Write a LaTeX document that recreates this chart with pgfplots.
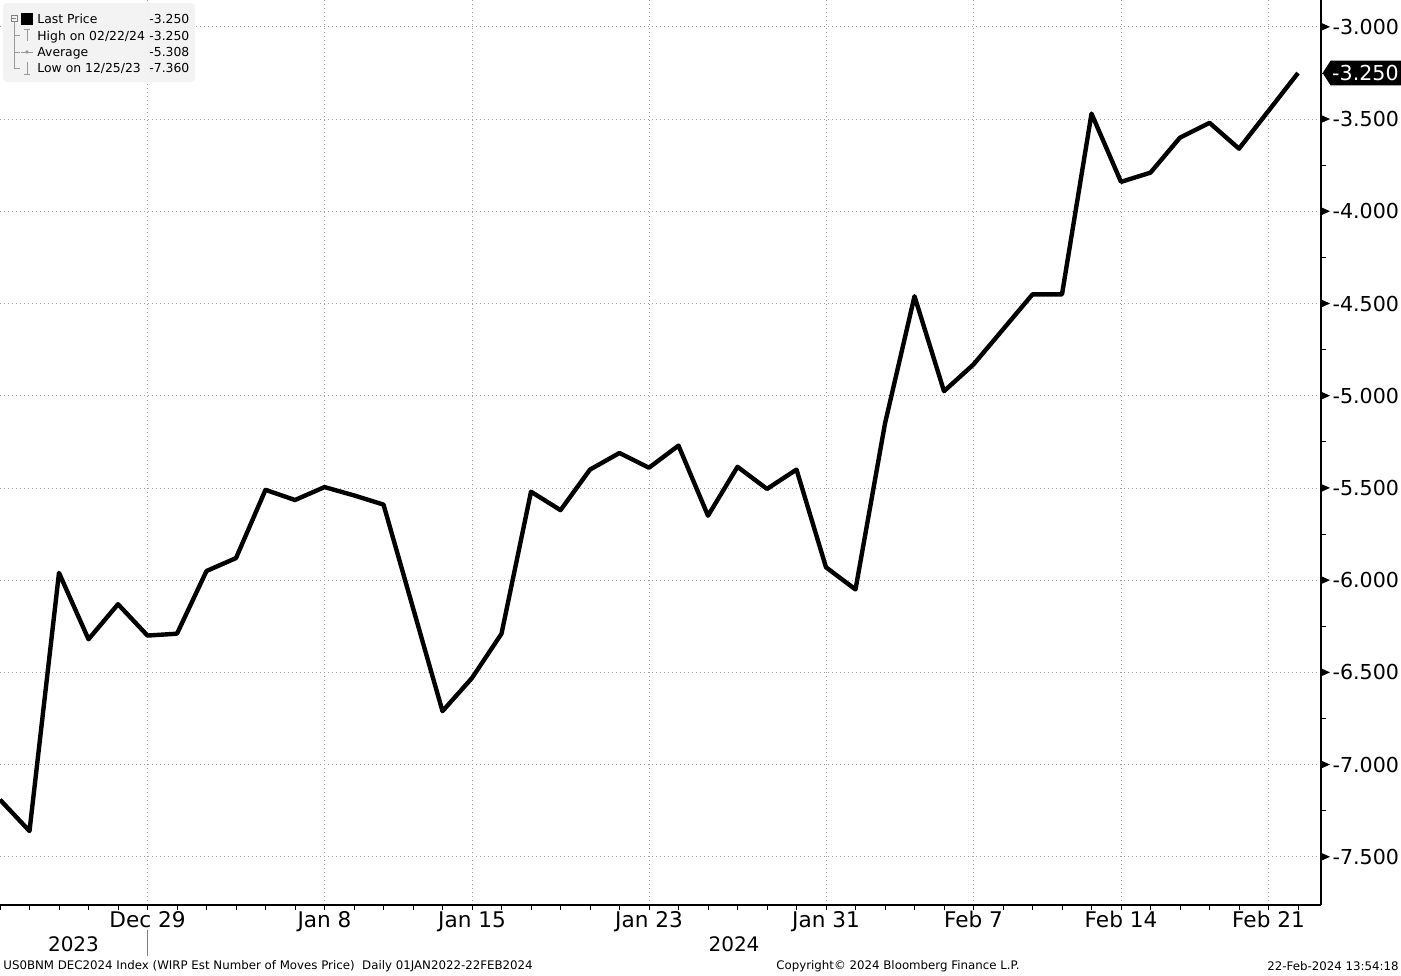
\documentclass[border=0pt]{standalone}
\usepackage{pgfplots}
\pgfplotsset{compat=1.18}
\usepackage{pgfplotstable}
\usepackage{fontspec}
\setmainfont{DejaVu Sans}

% index = business day counted from Fri 22 Dec 2023
\pgfplotstableread{
i v
0 -7.19
1 -7.36
2 -5.96
3 -6.32
4 -6.13
5 -6.30
6 -6.29
7 -5.95
8 -5.88
9 -5.51
10 -5.565
11 -5.495
12 -5.54
13 -5.59
14 -6.15
15 -6.71
16 -6.53
17 -6.29
18 -5.52
19 -5.62
20 -5.40
21 -5.31
22 -5.39
23 -5.27
24 -5.65
25 -5.385
26 -5.505
27 -5.40
28 -5.93
29 -6.05
30 -5.15
31 -4.46
32 -4.975
33 -4.83
34 -4.64
35 -4.45
36 -4.45
37 -3.47
38 -3.84
39 -3.79
40 -3.60
41 -3.52
42 -3.66
43 -3.455
44 -3.25
}\datatable

\newcommand{\tri}{\tikz[baseline={(0,-3.8pt)}]\fill[black] (0,-1.8pt)--(4pt,0)--(0,1.8pt)--cycle;\hspace{1.3pt}}
\newcommand{\tk}{\fontsize{10.3}{12}\selectfont}
\newcommand{\tx}{\fontsize{10.8}{12}\selectfont}

\begin{document}
\begin{tikzpicture}
\useasboundingbox (0,0) rectangle (700.5pt,-487.5pt);
\begin{axis}[
  at={(0pt,0pt)}, anchor=north west,
  scale only axis, width=660.5pt, height=452.5pt,
  xmin=0, xmax=44.78, ymin=-7.761, ymax=-2.854,
  axis x line*=bottom, axis y line*=right,
  axis line style={line width=0.6pt, -},
  xtick={5,11,16,22,28,33,38,43},
  xticklabels={Dec 29,Jan 8,Jan 15,Jan 23,Jan 31,Feb 7,Feb 14,Feb 21},
  minor xtick={0,...,44},
  ytick={-7.5,-7,-6.5,-6,-5.5,-5,-4.5,-4,-3.5,-3},
  yticklabels={\tri-7.500,\tri-7.000,\tri-6.500,\tri-6.000,\tri-5.500,\tri-5.000,\tri-4.500,\tri-4.000,\tri-3.500,\tri-3.000},
  minor ytick={-7.25,-6.75,-6.25,-5.75,-5.25,-4.75,-4.25,-3.75,-3.25},
  tick align=outside,
  major tick length=2.5pt, minor tick length=2.5pt,
  major y tick style={draw=none},
  tick style={black, line width=0.5pt},
  grid=major,
  major grid style={gray!75, line width=0.5pt, dash pattern=on 0.6pt off 1.4pt},
  xticklabel style={font=\tx, anchor=north, inner sep=0pt, yshift=-0.5pt},
  yticklabel style={font=\tk, anchor=west, inner sep=0pt, xshift=-2.2pt},
  clip=false,
]
\addplot[black, line width=2.2pt, line join=round] table[x=i,y=v]{\datatable};
\coordinate (lp) at (axis cs:44.78,-3.25);
\end{axis}

% last price tag
\fill[black] ([xshift=0.8pt]lp) -- ++(4pt,6.2pt) -- ++(35.2pt,0) -- ++(0,-12.4pt) -- ++(-35.2pt,0) -- cycle;
\node[white, font=\tk, inner sep=0pt] at ([xshift=22.2pt]lp) {-3.250};

% year labels and separator
\node[font=\fontsize{10}{12}\selectfont, inner sep=0pt] at (36.75pt,-472pt) {2023};
\node[font=\fontsize{10}{12}\selectfont, inner sep=0pt] at (367pt,-472pt) {2024};
\draw[gray, line width=0.5pt] (73.5pt,-465pt) -- (73.5pt,-478pt);

% footer
\node[font=\fontsize{5.9}{7}\selectfont, anchor=west, inner sep=0pt] at (1.5pt,-483pt) {US0BNM DEC2024 Index (WIRP Est Number of Moves Price)\ \ Daily 01JAN2022-22FEB2024};
\node[font=\fontsize{5.9}{7}\selectfont, inner sep=0pt] at (449pt,-483pt) {Copyright© 2024 Bloomberg Finance L.P.};
\node[font=\fontsize{5.9}{7}\selectfont, anchor=east, inner sep=0pt] at (699.5pt,-483pt) {22-Feb-2024 13:54:18};

% legend panel
\fill[gray!10, fill opacity=0.92, rounded corners=2pt] (1.5pt,-1.5pt) rectangle (97.5pt,-41pt);
\draw[gray, line width=0.3pt] (5.5pt,-7.5pt) rectangle (8.5pt,-10.5pt);
\draw[gray, line width=0.3pt] (6.2pt,-9pt) -- (7.8pt,-9pt);
\fill[black] (10.5pt,-6.3pt) rectangle (16.5pt,-12.3pt);
\draw[gray!80, line width=0.3pt] (7pt,-10.5pt) -- (7pt,-34pt);
\draw[gray!80, line width=0.3pt] (7pt,-17.5pt) -- (10pt,-17.5pt);
\draw[gray!80, line width=0.3pt] (7pt,-26pt) -- (10pt,-26pt);
\draw[gray!80, line width=0.3pt] (7pt,-34pt) -- (10pt,-34pt);
\draw[gray!80, line width=0.4pt] (13.5pt,-14.5pt) -- (13.5pt,-20.5pt) (12pt,-14.5pt) -- (15pt,-14.5pt);
\draw[gray!80, line width=0.4pt] (10.5pt,-26pt) -- (16.5pt,-26pt);
\fill[gray!80] (13.5pt,-26pt) circle (0.9pt);
\draw[gray!80, line width=0.4pt] (13.5pt,-31pt) -- (13.5pt,-37pt) (12pt,-37pt) -- (15pt,-37pt);
\begin{scope}[every node/.style={font=\fontsize{6.2}{7}\selectfont, anchor=base west, inner sep=0pt}]
\node at (18.5pt,-11.9pt) {Last Price};
\node at (18.5pt,-20.0pt) {High on 02/22/24};
\node at (18.5pt,-28.2pt) {Average};
\node at (18.5pt,-36.3pt) {Low on 12/25/23};
\node at (74.5pt,-11.9pt) {-3.250};
\node at (74.5pt,-20.0pt) {-3.250};
\node at (74.5pt,-28.2pt) {-5.308};
\node at (74.5pt,-36.3pt) {-7.360};
\end{scope}
\end{tikzpicture}
\end{document}
